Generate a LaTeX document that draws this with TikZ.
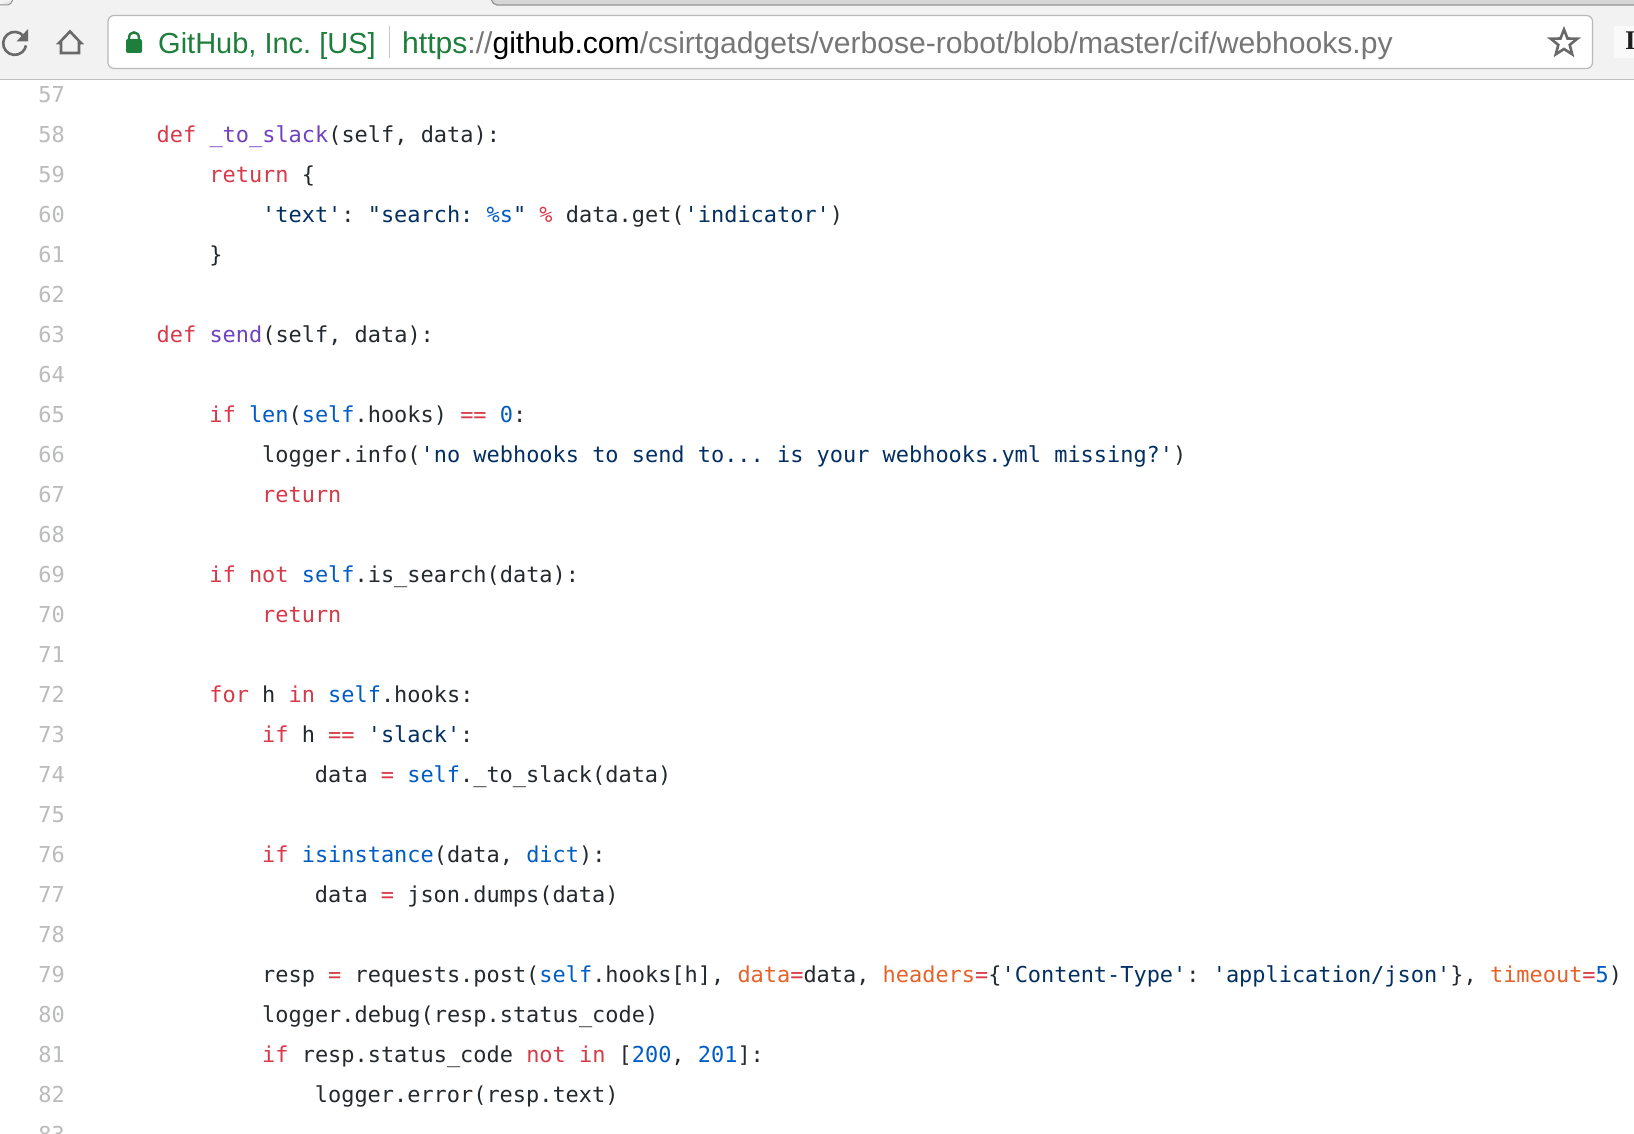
\documentclass[tikz,border=0pt]{standalone}
\usepackage{fontspec}
\setmainfont{Liberation Sans}
\newfontfamily\codefont{DejaVu Sans Mono}[Ligatures=NoCommon,Mapping=]
\newfontfamily\uifont{Liberation Sans}
\newfontfamily\markfont{Liberation Serif}[BoldFont=Liberation Serif Bold]
\definecolor{ckw}{HTML}{D73A49}
\definecolor{cfn}{HTML}{6F42C1}
\definecolor{cnm}{HTML}{005CC5}
\definecolor{cst}{HTML}{032F62}
\definecolor{cpa}{HTML}{E5622A}
\definecolor{ctx}{HTML}{24292E}
\definecolor{cln}{HTML}{BABBBC}
\definecolor{cgreen}{HTML}{1E7E3C}
\definecolor{cgrey}{HTML}{767676}
\definecolor{cicon}{HTML}{696969}
\newcommand{\cK}[1]{\textcolor{ckw}{#1}}
\newcommand{\cF}[1]{\textcolor{cfn}{#1}}
\newcommand{\cN}[1]{\textcolor{cnm}{#1}}
\newcommand{\cS}[1]{\textcolor{cst}{#1}}
\newcommand{\cP}[1]{\textcolor{cpa}{#1}}
\frenchspacing
\tikzset{
  codeline/.style={anchor=base west,inner sep=0pt,text=ctx,font=\codefont\frenchspacing\fontsize{21.93}{24}\selectfont},
  numline/.style={anchor=base west,inner sep=0pt,text=cln,font=\codefont\fontsize{21.93}{24}\selectfont},
  urlbit/.style={anchor=base west,inner sep=0pt,font=\uifont\frenchspacing\fontsize{30.1}{32}\selectfont},
  orgbit/.style={anchor=base west,inner sep=0pt,font=\uifont\frenchspacing\fontsize{29}{32}\selectfont},
  iconline/.style={draw=cicon,line width=2.6pt,line join=miter},
}
\begin{document}
\begin{tikzpicture}[x=1pt,y=-1pt]
\useasboundingbox (0,0) rectangle (1634,1134);
\clip (0,0) rectangle (1634,1134);
\fill[white] (0,0) rectangle (1634,1134);
% browser chrome
\fill[black!5] (0,0) rectangle (1634,79);
\draw[draw=black!25,line width=1.3pt] (0,79.4) -- (1634,79.4);
\fill[black!16] (492,-2) -- (492,0) .. controls (493,3) and (494,5) .. (497,5) -- (1634,5) -- (1634,-2) -- cycle;
\draw[draw=black!42,line width=1.2pt] (491,-1) .. controls (493,3) and (494,5) .. (497,5) -- (1634,5);
\fill[black!10] (-1,-1) rectangle (13,0) -- (13,0) .. controls (11.5,3) and (10,5) .. (8,5) -- (-1,5) -- cycle;
\draw[draw=black!42,line width=1pt] (13,-1) .. controls (11.5,3) and (10,5) .. (8,5) -- (-1,5);
% address box
\draw[draw=black!28,fill=white,line width=1.2pt,rounded corners=6pt] (108,15.5) rectangle (1592.5,68.5);
\draw[draw=black!22,line width=1.2pt] (389.5,26) -- (389.5,58);
% reload
\draw[iconline] (23.5,36) arc[start angle=40,end angle=350,radius=11.5pt];
\fill[cicon] (28,29) -- (28,41.5) -- (16.5,41.5) -- cycle;
% home
\draw[iconline] (59,43) -- (70,31.5) -- (81,43) -- (79,43) -- (79,53) -- (61,53) -- (61,43) -- cycle;
% lock
\draw[draw=cgreen,line width=2.4pt] (129,41) -- (129,38) .. controls (129,30.5) and (139,30.5) .. (139,38) -- (139,41);
\fill[cgreen,rounded corners=2pt] (126,39) rectangle (142,53);
% star
\draw[iconline] (1564,29.5) -- (1567.5,38.5) -- (1577.3,38.7) -- (1569.7,44.9) -- (1572.2,54.3) -- (1564,49) -- (1555.8,54.3) -- (1558.3,44.9) -- (1550.7,38.7) -- (1560.5,38.5) -- cycle;
% extension mark
\fill[black!2] (1614,26) rectangle (1634,58);
\node[anchor=base west,inner sep=0pt,font=\markfont\bfseries\fontsize{27}{30}\selectfont,text=black!88] (mark) at (1625,50) {I};
% url
\node[orgbit,text=cgreen] (org) at (158,53.4) {GitHub, Inc. [US]};
\node[urlbit] (url) at (402,53.4) {\textcolor{cgreen}{https}\textcolor{cgrey}{://}\textcolor{black}{github.com}\textcolor{cgrey}{/csirtgadgets/verbose-robot/blob/master/cif/webhooks.py}};
% line numbers
\foreach \n [evaluate=\n as \yy using {142.7+40*(\n-58)}] in {57,...,83}
  \node[numline] (num\n) at (38.2,\yy) {\n};
% code
\def\colA{156.5}\def\colB{209.2}\def\colC{262}\def\colD{314.7}
\node[codeline] (l58) at (\colA,142.7) {\cK{def} \cF{\_to\_slack}(self, data):};
\node[codeline] (l59) at (\colB,182.7) {\cK{return} \{};
\node[codeline] (l60) at (\colC,222.7) {\cS{'text'}: \cS{"search: }\cN{\%s}\cS{"} \cK{\%} data.get(\cS{'indicator'})};
\node[codeline] (l61) at (\colB,262.7) {\}};
\node[codeline] (l63) at (\colA,342.7) {\cK{def} \cF{send}(self, data):};
\node[codeline] (l65) at (\colB,422.7) {\cK{if} \cN{len}(\cN{self}.hooks) \cK{==} \cN{0}:};
\node[codeline] (l66) at (\colC,462.7) {logger.info(\cS{'no webhooks to send to... is your webhooks.yml missing?'})};
\node[codeline] (l67) at (\colC,502.7) {\cK{return}};
\node[codeline] (l69) at (\colB,582.7) {\cK{if} \cK{not} \cN{self}.is\_search(data):};
\node[codeline] (l70) at (\colC,622.7) {\cK{return}};
\node[codeline] (l72) at (\colB,702.7) {\cK{for} h \cK{in} \cN{self}.hooks:};
\node[codeline] (l73) at (\colC,742.7) {\cK{if} h \cK{==} \cS{'slack'}:};
\node[codeline] (l74) at (\colD,782.7) {data \cK{=} \cN{self}.\_to\_slack(data)};
\node[codeline] (l76) at (\colC,862.7) {\cK{if} \cN{isinstance}(data, \cN{dict}):};
\node[codeline] (l77) at (\colD,902.7) {data \cK{=} json.dumps(data)};
\node[codeline] (l79) at (\colC,982.7) {resp \cK{=} requests.post(\cN{self}.hooks[h], \cP{data}\cK{=}data, \cP{headers}\cK{=}\{\cS{'Content-Type'}: \cS{'application/json'}\}, \cP{timeout}\cK{=}\cN{5})};
\node[codeline] (l80) at (\colC,1022.7) {logger.debug(resp.status\_code)};
\node[codeline] (l81) at (\colC,1062.7) {\cK{if} resp.status\_code \cK{not} \cK{in} [\cN{200}, \cN{201}]:};
\node[codeline] (l82) at (\colD,1102.7) {logger.error(resp.text)};
\end{tikzpicture}
\end{document}
